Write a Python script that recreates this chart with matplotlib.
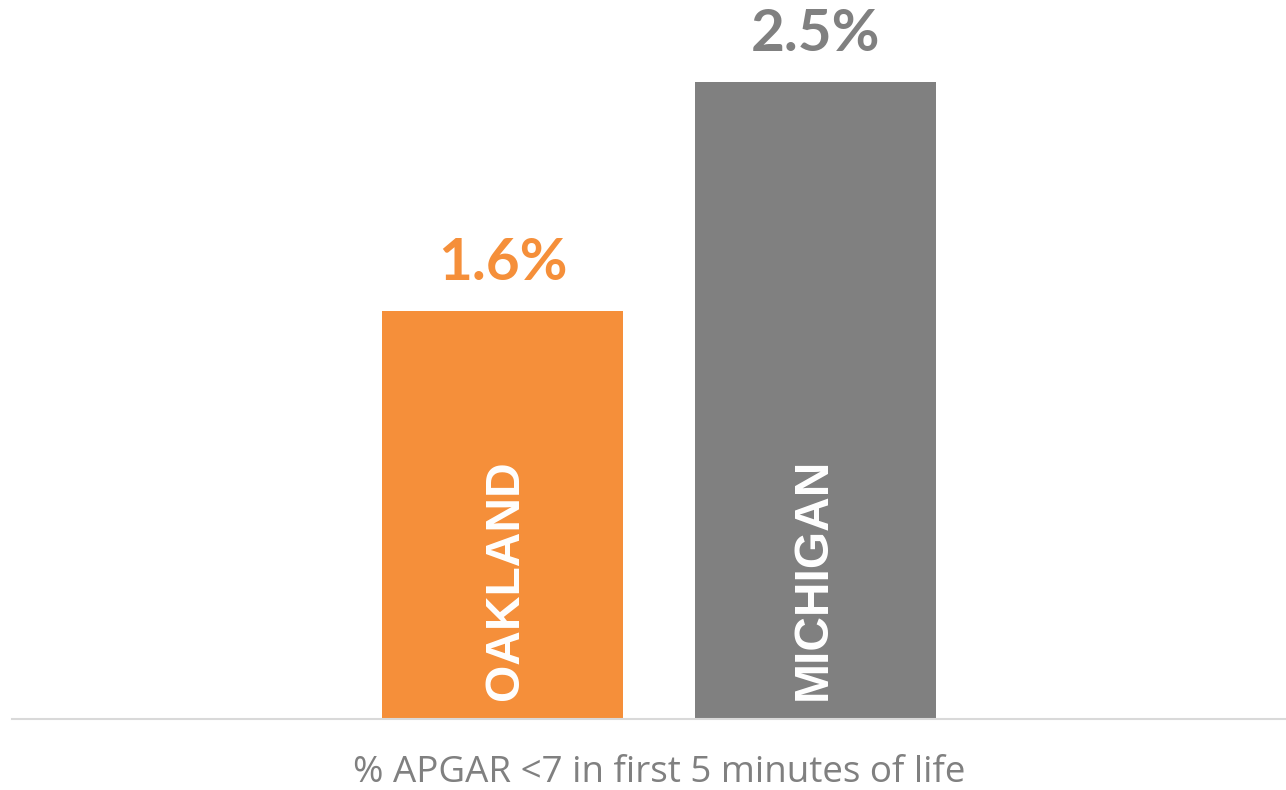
import matplotlib.pyplot as plt

# data
regions = ['OAKLAND', 'MICHIGAN']
values = [1.6, 2.5]
value_labels = ['1.6%', '2.5%']
colors = ['#F58F3A', '#808080']
xlabel = '% APGAR <7 in first 5 minutes of life'

fig = plt.figure(figsize=(12.86, 7.9), dpi=100)
ax = fig.add_axes([12 / 1286, 71 / 790, 1 - 12 / 1286, 719 / 790])

pos = list(range(len(regions)))
bars = ax.bar(pos, values, width=0.77, color=colors)

# value labels above bars
for x, v, lab, c in zip(pos, values, value_labels, colors):
    ax.annotate(lab, (x, v), xytext=(0, 15), textcoords='offset points',
                ha='center', va='bottom', fontsize=42, fontweight='bold',
                color=c, family='Lato')

# region names inside bars (slight nudges to line up with the original)
nudge = [2, -1.5]
for x, name, dx in zip(pos, regions, nudge):
    ax.annotate(name, (x, 0), xytext=(dx, 14), textcoords='offset points',
                rotation=90, ha='center', va='bottom', fontsize=34.5,
                fontweight='bold', color='white', family='Liberation Sans')

ax.set_xlim(-1.567, 2.503)
ax.set_ylim(0, 2.82)
for s in ['top', 'right', 'left']:
    ax.spines[s].set_visible(False)
ax.spines['bottom'].set_color('#D9D9D9')
ax.spines['bottom'].set_linewidth(1.5)
ax.set_xticks([])
ax.set_yticks([])

fig.text(659 / 1286, 1 - 773 / 790, xlabel, ha='center', va='center',
         fontsize=26.5, color='#808080', family='Open Sans')

fig.savefig('out.png', dpi=100)
